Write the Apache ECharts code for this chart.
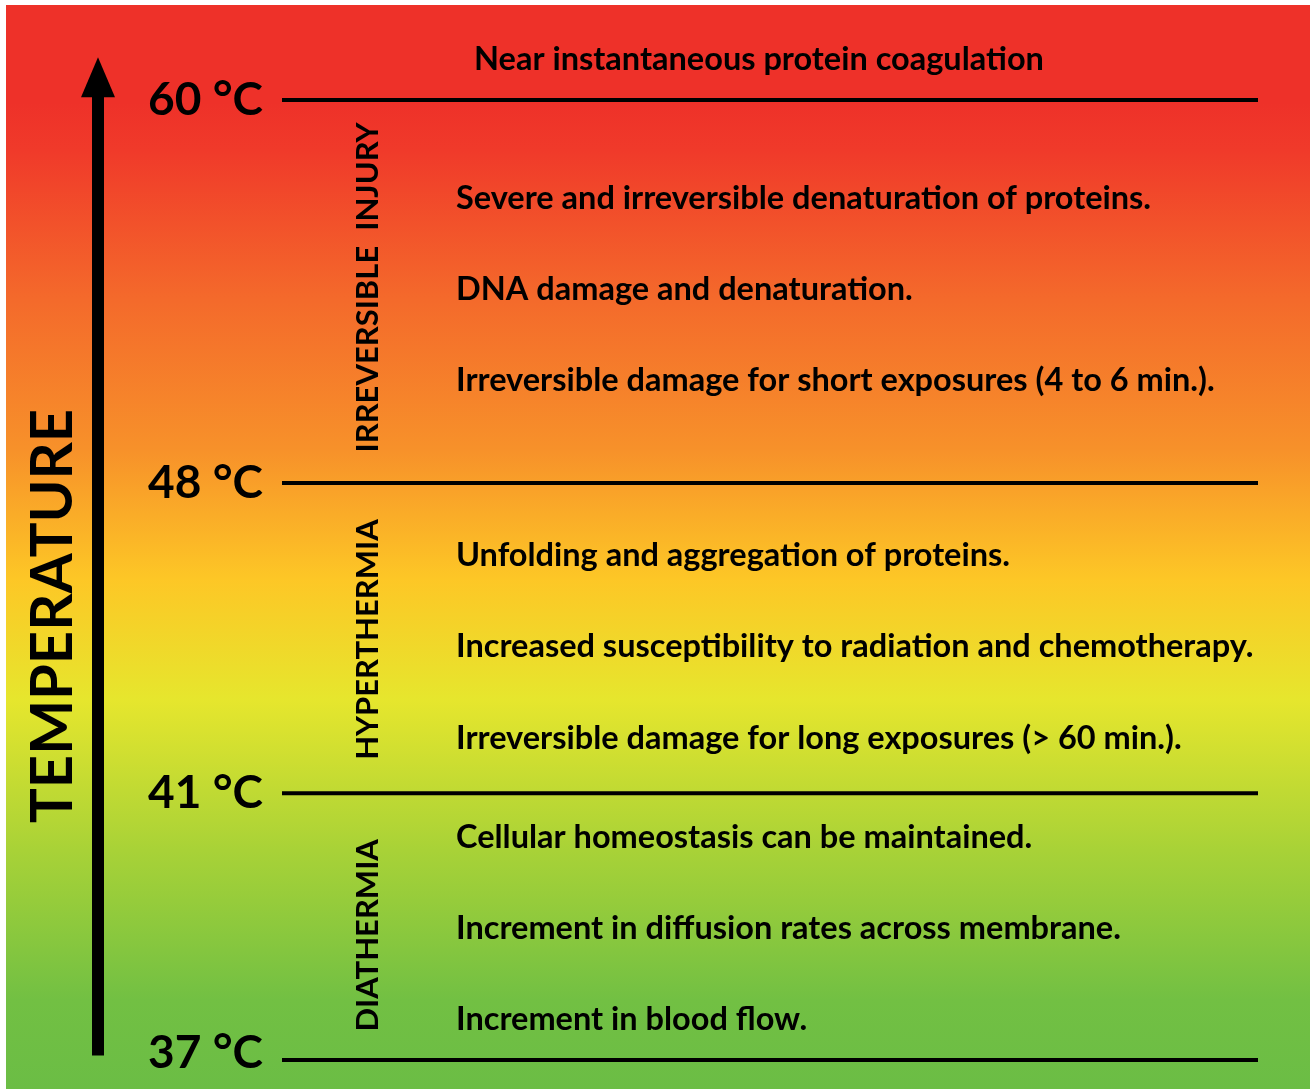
<!DOCTYPE html>
<html>
<head>
<meta charset="utf-8">
<script src="https://cdn.jsdelivr.net/npm/echarts@6/dist/echarts.min.js"></script>
<style>
  html, body { margin: 0; padding: 0; background: #ffffff; }
  #chart { width: 1310px; height: 1089px; }
</style>
</head>
<body>
<div id="chart"></div>
<script>
// ---------- DATA (schematic vertical position: 1 unit = one text row) ----------
const levelTemps = ['37', '41', '48', '60'];
const levelPos = [0, 2.93, 6.34, 10.55];

const zoneNames = ['DIATHERMIA', 'HYPERTHERMIA', 'IRREVERSIBLE  INJURY'];
const zoneCenters = [1.37, 4.62, 8.49];

const effectTexts = [
  'Increment in blood flow.',
  'Increment in diffusion rates across membrane.',
  'Cellular homeostasis can be maintained.',
  'Irreversible damage for long exposures (> 60 min.).',
  'Increased susceptibility to radiation and chemotherapy.',
  'Unfolding and aggregation of proteins.',
  'Irreversible damage for short exposures (4 to 6 min.).',
  'DNA damage and denaturation.',
  'Severe and irreversible denaturation of proteins.'
];
const effectPos = [0.44, 1.45, 2.45, 3.53, 4.54, 5.54, 7.47, 8.47, 9.47];

const topNote = ['Near instantaneous protein coagulation'];
const topNotePos = [10.99];

const axisTitle = ['TEMPERATURE'];
const axisTitlePos = [4.88];
const arrowRange = [0.05, 11.02];

// ---------- LAYOUT ----------
const FONT = 'Lato';
const X_LINE0 = 282, X_LINE1 = 1258;
const X_TEMP = 263;
const X_ZONE = 368;
const X_EFFECT = 456;
const X_NOTE = 474;
const X_TITLE = 53;
const X_ARROW = 98;

const chart = echarts.init(document.getElementById('chart'), null, { renderer: 'canvas' });

const option = {
  animation: false,
  backgroundColor: '#ffffff',
  grid: {
    left: 6, right: 0, top: 5, bottom: 0,
    show: true, borderWidth: 0,
    backgroundColor: new echarts.graphic.LinearGradient(0, 0, 0, 1, [
      { offset: 0.0, color: '#ee3129' },
      { offset: 0.09, color: '#ee3129' },
      { offset: 0.134, color: '#f03a2a' },
      { offset: 0.272, color: '#f46a2b' },
      { offset: 0.41, color: '#f7912a' },
      { offset: 0.53, color: '#fdc726' },
      { offset: 0.641, color: '#e6e62d' },
      { offset: 0.78, color: '#a8d237' },
      { offset: 0.918, color: '#72c043' },
      { offset: 1.0, color: '#6bbd45' }
    ])
  },
  xAxis: { type: 'value', min: 6, max: 1310, show: false },
  yAxis: { type: 'value', min: -0.3187, max: 11.5934, show: false },
  series: [
    // arrow + axis title
    {
      type: 'custom', silent: true,
      data: [[arrowRange[0], arrowRange[1], axisTitlePos[0]]],
      renderItem: function (params, api) {
        const p0 = api.coord([X_ARROW, api.value(0)]);
        const p1 = api.coord([X_ARROW, api.value(1)]);
        const pt = api.coord([X_TITLE, api.value(2)]);
        const headH = 40, headW = 17, shaftW = 6;
        return {
          type: 'group',
          children: [
            { type: 'rect', shape: { x: p0[0] - shaftW, y: p1[1] + headH - 2, width: shaftW * 2, height: p0[1] - p1[1] - headH + 2 }, style: { fill: '#000' } },
            { type: 'polygon', shape: { points: [[p1[0], p1[1]], [p1[0] - headW, p1[1] + headH], [p1[0] + headW, p1[1] + headH]] }, style: { fill: '#000' } },
            { type: 'text', x: pt[0], y: pt[1], rotation: Math.PI / 2,
              style: { text: axisTitle[0], fill: '#000', fontFamily: FONT, fontWeight: 'bold', fontSize: 58, align: 'center', verticalAlign: 'middle' } }
          ]
        };
      }
    },
    // temperature levels
    {
      type: 'custom', silent: true,
      data: levelPos.map(function (p, i) { return [i, p]; }),
      renderItem: function (params, api) {
        const i = api.value(0), p = api.value(1);
        const a = api.coord([X_LINE0, p]);
        const b = api.coord([X_LINE1, p]);
        const t = api.coord([X_TEMP, p]);
        return {
          type: 'group',
          children: [
            { type: 'line', shape: { x1: a[0], y1: a[1], x2: b[0], y2: b[1] }, style: { stroke: '#000', lineWidth: 4 } },
            { type: 'text', x: t[0], y: t[1] - (i === 0 ? 7 : 0),
              style: {
                text: '{n|' + levelTemps[i] + ' }{d|°}{n|C}',
                align: 'right', verticalAlign: 'middle', fill: '#000',
                rich: {
                  n: { fontFamily: FONT, fontWeight: 'bold', fontSize: 46, fill: '#000', lineHeight: 52 },
                  d: { fontFamily: FONT, fontWeight: 'bold', fontSize: 48, fill: '#000', lineHeight: 52 }
                }
              } }
          ]
        };
      }
    },
    // zone names (vertical)
    {
      type: 'custom', silent: true,
      data: zoneCenters.map(function (p, i) { return [i, p]; }),
      renderItem: function (params, api) {
        const i = api.value(0);
        const c = api.coord([X_ZONE, api.value(1)]);
        return { type: 'text', x: c[0], y: c[1], rotation: Math.PI / 2,
          style: { text: zoneNames[i], fill: '#000', fontFamily: FONT, fontWeight: 'bold', fontSize: 31, align: 'center', verticalAlign: 'middle' } };
      }
    },
    // effects
    {
      type: 'custom', silent: true,
      data: effectPos.map(function (p, i) { return [i, p]; }),
      renderItem: function (params, api) {
        const i = api.value(0);
        const c = api.coord([X_EFFECT, api.value(1)]);
        return { type: 'text', x: c[0], y: c[1],
          style: { text: effectTexts[i], fill: '#000', fontFamily: FONT, fontWeight: 'bold', fontSize: 32.5, align: 'left', verticalAlign: 'middle' } };
      }
    },
    // top note
    {
      type: 'custom', silent: true,
      data: topNotePos.map(function (p, i) { return [i, p]; }),
      renderItem: function (params, api) {
        const i = api.value(0);
        const c = api.coord([X_NOTE, api.value(1)]);
        return { type: 'text', x: c[0], y: c[1],
          style: { text: topNote[i], fill: '#000', fontFamily: FONT, fontWeight: 'bold', fontSize: 32.5, align: 'left', verticalAlign: 'middle' } };
      }
    }
  ]
};
chart.setOption(option);
</script>
</body>
</html>
